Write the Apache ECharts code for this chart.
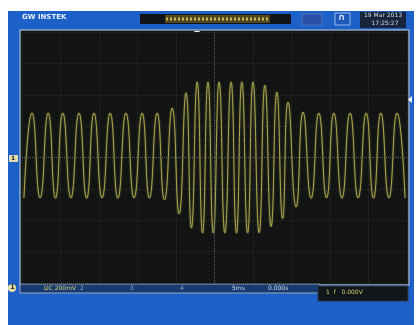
<!DOCTYPE html>
<html>
<head>
<meta charset="utf-8">
<script src="https://cdn.jsdelivr.net/npm/echarts@6/dist/echarts.min.js"></script>
<style>
html,body{margin:0;padding:0;background:#fff;}
#c{width:418px;height:325px;}
</style>
</head>
<body>
<div id="c"></div>
<script>
// Extrema of the CH1 trace (time in divisions, voltage in divisions)
var traceTime = [0.05,0.26,0.47,0.68,0.87,1.06,1.27,1.48,1.68,1.87,2.08,2.29,2.49,2.70,2.91,3.12,3.31,3.51,3.70,3.90,4.08,4.26,4.40,4.55,4.69,4.83,4.97,5.12,5.27,5.43,5.57,5.71,5.86,6.00,6.16,6.31,6.47,6.62,6.77,6.91,7.12,7.30,7.51,7.71,7.91,8.10,8.31,8.52,8.73,8.94,9.13,9.32,9.53,9.74,9.95];
var traceVolt = [-1.29,1.42,-1.29,1.42,-1.30,1.42,-1.29,1.42,-1.30,1.42,-1.29,1.42,-1.30,1.42,-1.29,1.42,-1.30,1.42,-1.35,1.58,-1.80,2.06,-2.25,2.41,-2.41,2.41,-2.41,2.41,-2.41,2.41,-2.41,2.41,-2.41,2.41,-2.40,2.31,-2.20,2.09,-1.95,1.77,-1.58,1.45,-1.30,1.42,-1.29,1.42,-1.30,1.42,-1.29,1.42,-1.30,1.42,-1.29,1.42,-1.29];
var xTicks = [0,1,2,3,4,5,6,7,8,9,10];
var yTicks = [-4,-3,-2,-1,0,1,2,3,4];
var statusTexts = ['1','DC','200mV','2','3','4','5ms','0.000s','1.5ms'];

var traceData = traceTime.map(function(t,i){return [t, traceVolt[i]];});

var chart = echarts.init(document.getElementById('c'), null, {renderer:'canvas'});
var blue = '#1c60c8';
var txt = function(x,y,s,size,color,weight,align){
  return {type:'text', z:-1, style:{x:x, y:y, text:s, fill:color, font:(weight||'normal')+' '+size+'px "DejaVu Sans", sans-serif', textAlign:align||'left', textVerticalAlign:'top'}};
};
chart.setOption({
  backgroundColor:'#ffffff',
  animation:false,
  grid:{left:22, top:32, width:385, height:251, show:true, backgroundColor:'#111413', borderWidth:0},
  xAxis:{type:'value', min:xTicks[0], max:xTicks[xTicks.length-1], interval:1,
    axisLine:{show:false}, axisTick:{show:false}, axisLabel:{show:false},
    splitLine:{show:true, lineStyle:{color:'#262a2b', type:'dotted', width:1}}},
  yAxis:{type:'value', min:yTicks[0], max:yTicks[yTicks.length-1], interval:1,
    axisLine:{show:false}, axisTick:{show:false}, axisLabel:{show:false},
    splitLine:{show:true, lineStyle:{color:'#262a2b', type:'dotted', width:1}}},
  graphic:[
    {type:'rect', z:-10, shape:{x:8,y:11,width:406,height:314}, style:{fill:blue}},
    {type:'rect', z:-9, shape:{x:20,y:30,width:389,height:255}, style:{fill:'#111413', stroke:'#8fa6c8', lineWidth:1.5}},
    // status strip
    {type:'rect', z:-8, shape:{x:20,y:284,width:300,height:9}, style:{fill:'#173a70', stroke:'#9aa8b8', lineWidth:1}},
    {type:'rect', z:-8, shape:{x:318,y:286,width:90,height:15}, style:{fill:'#10161a', stroke:'#2a3a55', lineWidth:1}},
    {type:'circle', z:-7, shape:{cx:12,cy:288,r:4}, style:{fill:'#e8e0a0'}},
    txt(10,284,'1',7,'#333','bold'),
    txt(44,285,statusTexts[1]+' '+statusTexts[2],6,'#e0d070'),
    txt(80,285,statusTexts[3],6,'#9ab'),
    txt(130,285,statusTexts[4],6,'#9ab'),
    txt(180,285,statusTexts[5],6,'#9ab'),
    txt(232,285,statusTexts[6],6,'#dde'),
    txt(268,285,statusTexts[7],6,'#dde'),
    txt(326,289,'1  f   0.000V',6,'#d8cf70'),
    {type:'rect', z:-7, shape:{x:344,y:273,width:10,height:7}, style:{fill:'#e8e8e8'}},
    txt(346,273,'T',6,'#111','bold'),
    txt(372,273,statusTexts[8],6,'#ccd'),
    // top bar
    txt(22,14,'GW INSTEK',7,'#e8eef8','bold'),
    {type:'rect', z:-8, shape:{x:140,y:14,width:151,height:10}, style:{fill:'#101418'}},
    {type:'rect', z:-7, shape:{x:165,y:15,width:105,height:8}, style:{fill:'#4e4822'}},
    {type:'line', z:-6, shape:{x1:166,y1:19,x2:269,y2:19}, style:{stroke:'#c9b650', lineWidth:3, lineDash:[2,2]}},
    {type:'rect', z:-8, shape:{x:302,y:14,width:20,height:11}, style:{fill:'#2a4fa8', stroke:'#4a70c0'}},
    {type:'rect', z:-8, shape:{x:335,y:13,width:15,height:12}, style:{fill:'#1d58b8', stroke:'#9ab8e8'}},
    txt(338,13,'∩',9,'#d8e4f8','bold'),
    {type:'rect', z:-8, shape:{x:360,y:12,width:46,height:16}, style:{fill:'#16243c'}},
    txt(383,12,'19 Mar 2013',6,'#d8dce8','normal','center'),
    txt(385,20,'17:25:27',6,'#d8dce8','normal','center'),
    // markers
    {type:'polygon', z:-6, shape:{points:[[194,31],[200,31],[197,36]]}, style:{fill:'#f0f0f0'}},
    {type:'rect', z:-6, shape:{x:9,y:155,width:9,height:7}, style:{fill:'#e0dcb0'}},
    txt(11,155,'1',6,'#222','bold'),
    {type:'polygon', z:-6, shape:{points:[[412,96],[412,103],[408,99.5]]}, style:{fill:'#f0f0f0'}}
  ],
  series:[{
    type:'line', data:traceData, smooth:0.55, symbol:'none',
    lineStyle:{color:'#aaa64e', width:1, shadowColor:'rgba(180,175,80,0.6)', shadowBlur:2},
    markLine:{silent:true, symbol:'none', label:{show:false},
      lineStyle:{color:'#5e6264', type:'dotted', width:1},
      data:[{xAxis:5},{yAxis:0}]}
  }]
});
</script>
</body>
</html>
